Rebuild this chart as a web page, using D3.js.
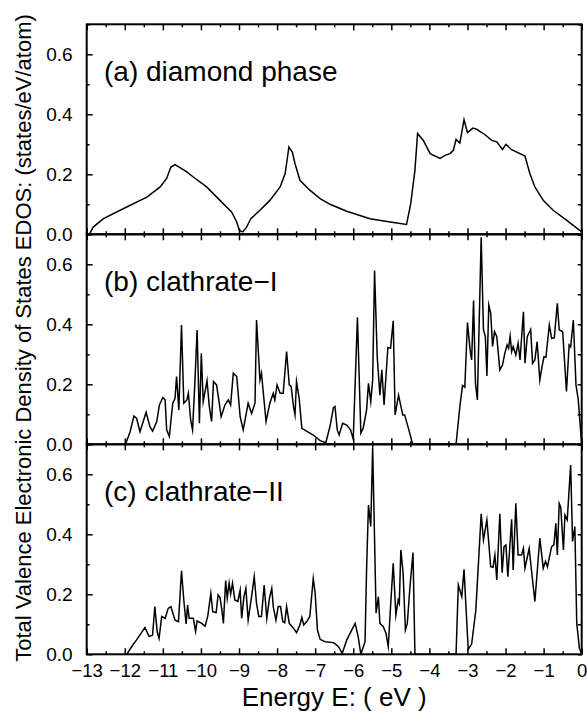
<!DOCTYPE html>
<html><head><meta charset="utf-8">
<script src="https://cdn.jsdelivr.net/npm/d3@7"></script>
<style>
body{margin:0;background:#fff}
svg{display:block}
text{font-family:"Liberation Sans",Arial,Helvetica,sans-serif;fill:#000}
</style></head>
<body><svg id="chart" width="587" height="712"></svg>
<script>
// ---------- data ----------
const panelLabels = ["(a) diamond phase", "(b) clathrate\u2212I", "(c) clathrate\u2212II"];
const xTicks = [-13,-12,-11,-10,-9,-8,-7,-6,-5,-4,-3,-2,-1,0];
const yTicks = [0,0.2,0.4,0.6];
const xTitle = "Energy E: ( eV )";
const yTitle = "Total Valence Electronic Density of States EDOS: (states/eV/atom)";

const diamond = [[-12.93,0],[-12.83,0.024],[-12.56,0.052],[-11.95,0.091],[-11.42,0.124],[-11.07,0.158],[-10.90,0.186],[-10.79,0.224],[-10.68,0.232],[-10.55,0.222],[-10.37,0.208],[-10.2,0.191],[-9.85,0.158],[-9.5,0.113],[-9.19,0.074],[-9.06,0.041],[-8.99,0.013],[-8.90,0.008],[-8.80,0.024],[-8.69,0.052],[-8.45,0.08],[-8.19,0.113],[-7.92,0.158],[-7.79,0.202],[-7.75,0.236],[-7.69,0.291],[-7.60,0.274],[-7.53,0.236],[-7.40,0.18],[-7.14,0.147],[-6.87,0.119],[-6.61,0.1],[-6.17,0.077],[-5.56,0.052],[-5.03,0.041],[-4.60,0.033],[-4.49,0.102],[-4.38,0.213],[-4.31,0.336],[-4.16,0.313],[-3.98,0.269],[-3.72,0.253],[-3.59,0.263],[-3.46,0.269],[-3.37,0.28],[-3.30,0.316],[-3.20,0.304],[-3.09,0.382],[-3.0,0.339],[-2.86,0.354],[-2.76,0.35],[-2.58,0.336],[-2.36,0.313],[-2.23,0.308],[-2.08,0.283],[-1.99,0.3],[-1.84,0.282],[-1.49,0.261],[-1.36,0.202],[-1.23,0.158],[-1.01,0.113],[-0.75,0.08],[-0.40,0.047],[0,0.008]];

const clathrateI = [[-11.98,0],[-11.86,0.042],[-11.76,0.094],[-11.69,0.087],[-11.60,0.042],[-11.44,0.107],[-11.34,0.059],[-11.27,0.044],[-11.16,0.076],[-11.09,0.131],[-11.00,0.156],[-10.94,0.148],[-10.90,0.048],[-10.83,0.026],[-10.74,0.137],[-10.68,0.153],[-10.64,0.226],[-10.58,0.114],[-10.51,0.398],[-10.45,0.137],[-10.37,0.148],[-10.33,0.17],[-10.27,0.081],[-10.22,0.048],[-10.16,0.203],[-10.10,0.381],[-10.04,0.07],[-9.99,0.303],[-9.94,0.142],[-9.84,0.212],[-9.78,0.126],[-9.72,0.076],[-9.67,0.209],[-9.59,0.198],[-9.53,0.148],[-9.47,0.092],[-9.37,0.131],[-9.28,0.148],[-9.22,0.131],[-9.15,0.237],[-9.06,0.226],[-8.97,0.092],[-8.89,0.048],[-8.76,0.137],[-8.67,0.103],[-8.58,0.137],[-8.54,0.414],[-8.45,0.214],[-8.41,0.237],[-8.29,0.076],[-8.19,0.137],[-8.10,0.17],[-8.06,0.148],[-8.0,0.198],[-7.92,0.17],[-7.84,0.17],[-7.75,0.309],[-7.68,0.198],[-7.63,0.192],[-7.57,0.126],[-7.53,0.098],[-7.49,0.209],[-7.42,0.153],[-7.35,0.053],[-7.05,0.031],[-6.87,0.012],[-6.72,0.005],[-6.61,0.06],[-6.52,0.122],[-6.48,0.126],[-6.42,0.048],[-6.37,0.031],[-6.28,0.07],[-6.17,0.064],[-6.07,0.048],[-6.00,0.017],[-5.89,0.423],[-5.80,0.037],[-5.74,0.053],[-5.65,0.114],[-5.60,0.203],[-5.54,0.142],[-5.49,0.214],[-5.44,0.579],[-5.37,0.292],[-5.30,0.164],[-5.25,0.248],[-5.19,0.131],[-5.09,0.323],[-5.02,0.32],[-4.95,0.412],[-4.90,0.098],[-4.81,0.164],[-4.70,0.098],[-4.65,0.098],[-4.55,0.053],[-4.44,0],[-3.30,0],[-3.20,0.126],[-3.13,0.196],[-3.07,0.19],[-3.0,0.406],[-2.93,0.314],[-2.89,0.281],[-2.84,0.479],[-2.79,0.203],[-2.74,0.148],[-2.64,0.69],[-2.58,0.381],[-2.53,0.359],[-2.49,0.228],[-2.44,0.464],[-2.39,0.437],[-2.34,0.326],[-2.29,0.376],[-2.23,0.359],[-2.15,0.248],[-2.08,0.264],[-2.02,0.303],[-1.96,0.331],[-1.92,0.32],[-1.88,0.361],[-1.84,0.309],[-1.80,0.326],[-1.73,0.298],[-1.67,0.337],[-1.62,0.281],[-1.53,0.442],[-1.49,0.27],[-1.43,0.359],[-1.34,0.383],[-1.29,0.27],[-1.23,0.281],[-1.17,0.342],[-1.10,0.214],[-1.05,0.253],[-0.99,0.292],[-0.94,0.29],[-0.85,0.398],[-0.79,0.353],[-0.72,0.355],[-0.64,0.47],[-0.59,0.381],[-0.50,0.376],[-0.40,0.176],[-0.33,0.331],[-0.29,0.325],[-0.22,0.414],[-0.15,0.198],[-0.09,0.148],[-0.03,0.048],[0,0]];

const clathrateII = [[-11.95,0],[-11.79,0.031],[-11.69,0.048],[-11.47,0.089],[-11.36,0.059],[-11.27,0.064],[-11.21,0.159],[-11.15,0.076],[-11.10,0.053],[-11.03,0.126],[-10.94,0.12],[-10.86,0.153],[-10.79,0.159],[-10.68,0.114],[-10.59,0.109],[-10.51,0.278],[-10.45,0.181],[-10.39,0.101],[-10.35,0.164],[-10.31,0.12],[-10.20,0.12],[-10.14,0.076],[-10.10,0.111],[-9.98,0.103],[-9.89,0.094],[-9.82,0.128],[-9.74,0.203],[-9.69,0.142],[-9.60,0.139],[-9.55,0.198],[-9.50,0.19],[-9.45,0.148],[-9.41,0.103],[-9.35,0.246],[-9.31,0.187],[-9.26,0.237],[-9.22,0.201],[-9.17,0.237],[-9.11,0.181],[-9.03,0.176],[-8.97,0.214],[-8.93,0.12],[-8.87,0.192],[-8.82,0.22],[-8.76,0.114],[-8.67,0.192],[-8.60,0.259],[-8.54,0.17],[-8.48,0.126],[-8.41,0.126],[-8.34,0.231],[-8.27,0.12],[-8.20,0.187],[-8.14,0.22],[-8.10,0.159],[-8.03,0.114],[-7.97,0.159],[-7.91,0.159],[-7.85,0.109],[-7.80,0.105],[-7.75,0.159],[-7.68,0.103],[-7.57,0.087],[-7.49,0.072],[-7.40,0.098],[-7.35,0.123],[-7.30,0.098],[-7.22,0.109],[-7.14,0.126],[-7.05,0.253],[-7.00,0.203],[-6.94,0.081],[-6.87,0.05],[-6.74,0.042],[-6.52,0.039],[-6.39,0.026],[-6.29,0.003],[-6.17,0.048],[-5.95,0.103],[-5.87,0.059],[-5.80,0],[-5.69,0.042],[-5.65,0.281],[-5.60,0.498],[-5.54,0.426],[-5.49,0.69],[-5.40,0.137],[-5.34,0.192],[-5.30,0.103],[-5.21,0.092],[-5.14,0.07],[-5.08,0.026],[-5.02,0.159],[-4.95,0.303],[-4.88,0.131],[-4.82,0.181],[-4.79,0.17],[-4.75,0.348],[-4.69,0.27],[-4.63,0.081],[-4.58,0.103],[-4.51,0.226],[-4.43,0.339],[-4.38,0],[-3.30,0],[-3.24,0.231],[-3.15,0.192],[-3.09,0.283],[-3.04,0.159],[-2.98,0.017],[-2.89,0.034],[-2.78,0.148],[-2.64,0.468],[-2.58,0.381],[-2.49,0.448],[-2.39,0.292],[-2.33,0.29],[-2.28,0.331],[-2.23,0.248],[-2.15,0.468],[-2.09,0.272],[-2.04,0.359],[-1.99,0.364],[-1.94,0.259],[-1.84,0.45],[-1.80,0.281],[-1.73,0.503],[-1.67,0.331],[-1.58,0.331],[-1.53,0.353],[-1.49,0.287],[-1.38,0.353],[-1.23,0.176],[-1.10,0.387],[-1.01,0.287],[-0.95,0.31],[-0.90,0.292],[-0.79,0.359],[-0.73,0.365],[-0.68,0.437],[-0.64,0.331],[-0.59,0.503],[-0.55,0.49],[-0.48,0.348],[-0.44,0.464],[-0.38,0.448],[-0.29,0.631],[-0.24,0.376],[-0.18,0.426],[-0.13,0.103],[-0.06,0.02],[0,0]];

const series = [diamond, clathrateI, clathrateII];

// ---------- layout ----------
const svg = d3.select("#chart");
const left = 86.7, right = 581.7, top0 = 24.3, ph = 210;
const x = d3.scaleLinear().domain([-13, 0]).range([left, right]);
const xMinor = d3.range(-12.5, 0, 1);
const yMinor = [0.1, 0.3, 0.5, 0.7];

function styleAxis(size){
  return g => {
    g.select(".domain").remove();
    g.selectAll(".tick line").attr("stroke","#000").attr("stroke-width",1.5);
    g.selectAll("text").attr("font-size",size).attr("font-family",'"Liberation Sans",Arial,sans-serif').attr("fill","#000");
  };
}

series.forEach((data, i) => {
  const y0 = top0 + i * ph;
  const y = d3.scaleLinear().domain([0, 0.7]).range([y0 + ph, y0]);
  const g = svg.append("g");

  const cid = "clip" + i;
  svg.append("clipPath").attr("id", cid).append("rect")
    .attr("x", left).attr("y", y0).attr("width", right - left).attr("height", ph);

  g.append("path").datum(data)
    .attr("clip-path", `url(#${cid})`)
    .attr("fill", "none").attr("stroke", "#000").attr("stroke-width", 1.5)
    .attr("stroke-linejoin", "miter").attr("stroke-miterlimit", 10)
    .attr("d", d3.line().x(d => x(d[0])).y(d => y(d[1])));

  // left axis (inward ticks) with labels
  g.append("g").attr("transform", `translate(${left},0)`)
    .call(d3.axisLeft(y).tickValues(yTicks).tickSize(-6).tickPadding(14).tickFormat(d3.format(".1f")))
    .call(styleAxis(19));
  g.append("g").attr("transform", `translate(${left},0)`)
    .call(d3.axisLeft(y).tickValues(yMinor).tickSize(-3).tickFormat(""))
    .call(styleAxis(19));
  // right axis
  g.append("g").attr("transform", `translate(${right},0)`)
    .call(d3.axisRight(y).tickValues(yTicks.concat(yMinor)).tickSize(-4).tickFormat(""))
    .call(styleAxis(19));
  // bottom axis
  g.append("g").attr("transform", `translate(0,${y0 + ph})`)
    .call(d3.axisBottom(x).tickValues(xTicks).tickSize(-6).tickPadding(10).tickFormat(i === 2 ? d3.format("d") : ""))
    .call(styleAxis(18.5));
  g.append("g").attr("transform", `translate(0,${y0 + ph})`)
    .call(d3.axisBottom(x).tickValues(xMinor).tickSize(-3).tickFormat(""))
    .call(styleAxis(18.5));
  // top axis
  g.append("g").attr("transform", `translate(0,${y0})`)
    .call(d3.axisTop(x).tickValues(xTicks).tickSize(-6).tickFormat(""))
    .call(styleAxis(19));
  g.append("g").attr("transform", `translate(0,${y0})`)
    .call(d3.axisTop(x).tickValues(xMinor).tickSize(-3).tickFormat(""))
    .call(styleAxis(19));

  // frame
  g.append("rect").attr("x", left).attr("y", y0).attr("width", right - left).attr("height", ph)
    .attr("fill", "none").attr("stroke", "#000").attr("stroke-width", 2);

  // panel label
  g.append("text").attr("x", 104).attr("y", y0 + 56.7)
    .attr("font-size", 28).text(panelLabels[i]);
});

// axis titles
svg.append("text").attr("x", (left + right) / 2).attr("y", 706)
  .attr("text-anchor", "middle").attr("font-size", 26).text(xTitle);
svg.append("text").attr("transform", "translate(31,338) rotate(-90)")
  .attr("text-anchor", "middle").attr("font-size", 22).text(yTitle);
</script></body></html>
